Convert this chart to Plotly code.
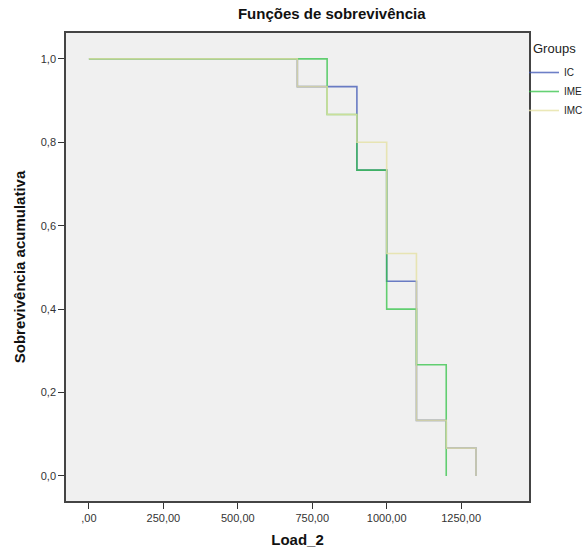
import plotly.graph_objects as go

times = [0, 700, 800, 900, 1000, 1100, 1200, 1300]
ic = [15/15, 14/15, 14/15, 11/15, 7/15, 2/15, 1/15, 0/15]
ime = [15/15, 15/15, 13/15, 11/15, 6/15, 4/15, 0/15]
imc = [15/15, 14/15, 13/15, 12/15, 8/15, 2/15, 1/15, 0/15]

x_tickvals = [0, 250, 500, 750, 1000, 1250]
x_ticktext = [",00", "250,00", "500,00", "750,00", "1000,00", "1250,00"]
y_tickvals = [0.0, 0.2, 0.4, 0.6, 0.8, 1.0]
y_ticktext = ["0,0", "0,2", "0,4", "0,6", "0,8", "1,0"]

font_family = "Liberation Sans, Arial, sans-serif"

fig = go.Figure()
series = [
    ("IC", times, ic, "rgb(60,84,180)", 0.75),
    ("IME", times[:len(ime)], ime, "rgb(50,195,70)", 0.75),
    ("IMC", times, imc, "rgb(230,226,165)", 0.8),
]
for name, xs, ys, col, op in series:
    fig.add_trace(go.Scatter(
        x=xs, y=ys, name=name, mode="lines",
        line=dict(shape="hv", color=col, width=1.6),
        opacity=op,
    ))

fig.update_layout(
    width=584, height=550,
    margin=dict(l=66, r=55, t=33, b=49, autoexpand=False),
    paper_bgcolor="white",
    plot_bgcolor="#f0f0f0",
    font=dict(family=font_family, size=11, color="#333333"),
    title=dict(text="<b>Funções de sobrevivência</b>", x=0.568, xref="container",
               xanchor="center", y=0.985, yref="container", yanchor="top",
               font=dict(size=15, color="#111111")),
    legend=dict(x=524 / 584, xref="container", xanchor="left",
                y=1 - 58 / 550, yref="container", yanchor="top",
                font=dict(size=10, color="#222222"),
                bgcolor="rgba(0,0,0,0)", tracegroupgap=0, itemwidth=30),
    showlegend=True,
)
fig.add_annotation(text="Groups", xref="paper", yref="paper",
                   x=(531 - 66) / 463, y=(501 - 48) / 468, xanchor="left", yanchor="middle",
                   showarrow=False, font=dict(size=13, color="#222222"))
fig.update_xaxes(
    range=[-77, 1478], tickvals=x_tickvals, ticktext=x_ticktext,
    ticks="outside", ticklen=6, tickcolor="#333333", tickwidth=1,
    showgrid=False, zeroline=False, automargin=False,
    showline=True, linecolor="#444444", linewidth=1.5, mirror=True,
    title=dict(text="<b>Load_2</b>", font=dict(size=15, color="#111111"), standoff=12),
)
fig.update_yaxes(
    range=[-0.06, 1.062], tickvals=y_tickvals, ticktext=y_ticktext,
    ticks="outside", ticklen=6, tickcolor="#333333", tickwidth=1,
    showgrid=False, zeroline=False, automargin=False,
    showline=True, linecolor="#444444", linewidth=1.5, mirror=True,
    title=dict(text="<b>Sobrevivência acumulativa</b>", font=dict(size=15, color="#111111"), standoff=12),
)

fig.write_html("out.html", config={"displayModeBar": False},
               post_script="document.body.style.margin='0';")
